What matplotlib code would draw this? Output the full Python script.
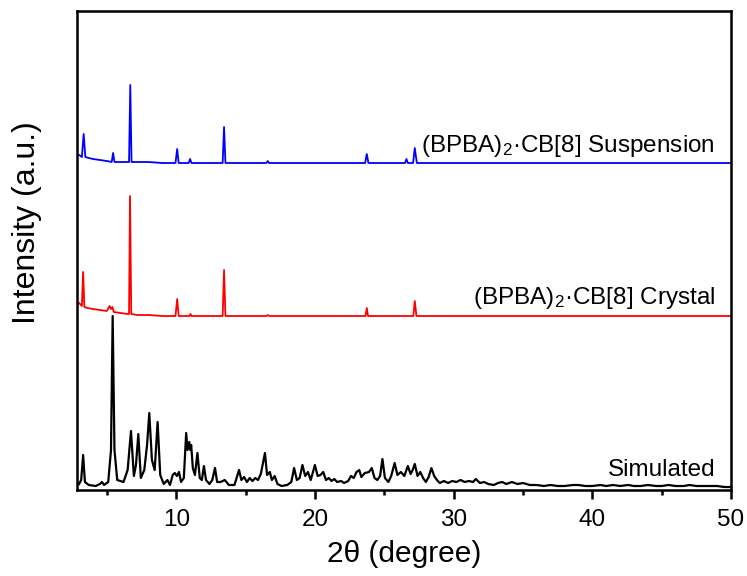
import numpy as np
import matplotlib
matplotlib.use('Agg')
import matplotlib.pyplot as plt
from matplotlib.ticker import MultipleLocator

plt.rcParams['font.family'] = ['Liberation Sans', 'DejaVu Sans']
plt.rcParams['mathtext.fontset'] = 'custom'
plt.rcParams['mathtext.rm'] = 'Liberation Sans'
plt.rcParams['mathtext.default'] = 'regular'

# 2theta / intensity (a.u., already stacked)
sim_x = [3.0, 3.15, 3.29, 3.42, 3.7, 4.2, 4.5, 4.65, 4.8, 5.1, 5.3, 5.42, 5.55, 5.75,
         6.2, 6.5, 6.74, 6.95, 7.1, 7.27, 7.45, 7.7, 7.9, 8.06, 8.25, 8.45, 8.66, 8.85,
         9.1, 9.37, 9.55, 9.75, 9.9, 10.05, 10.2, 10.35, 10.55, 10.72, 10.82, 10.94,
         11.02, 11.08, 11.2, 11.35, 11.53, 11.7, 11.85, 12.0, 12.15, 12.4, 12.6, 12.8,
         12.95, 13.2, 13.5, 13.8, 14.2, 14.53, 14.7, 14.9, 15.1, 15.3, 15.5, 15.7, 15.9,
         16.1, 16.4, 16.55, 16.75, 16.9, 17.1, 17.3, 17.6, 18.0, 18.3, 18.5, 18.7, 18.9,
         19.1, 19.3, 19.5, 19.7, 20.0, 20.2, 20.4, 20.6, 20.8, 21.0, 21.2, 21.4, 21.6,
         21.9, 22.1, 22.4, 22.6, 22.8, 23.0, 23.2, 23.35, 23.6, 23.9, 24.1, 24.3, 24.5,
         24.7, 24.87, 25.05, 25.3, 25.5, 25.75, 25.95, 26.2, 26.45, 26.7, 26.9, 27.05,
         27.2, 27.4, 27.6, 27.8, 28.0, 28.2, 28.4, 28.6, 28.8, 29.0, 29.3, 29.6, 29.9,
         30.2, 30.5, 30.8, 31.1, 31.4, 31.6, 31.9, 32.2, 32.5, 32.9, 33.2, 33.5, 33.8,
         34.2, 34.6, 35.0, 35.5, 36.0, 36.5, 37.0, 37.5, 38.0, 38.6, 39.0, 39.5, 40.0,
         40.6, 41.0, 41.5, 42.0, 42.6, 43.0, 43.5, 44.0, 44.6, 45.0, 45.5, 46.0, 46.6,
         47.0, 47.5, 48.0, 48.6, 49.0, 49.5, 50.0]
sim_y = [6, 10, 35, 8, 5, 4, 6, 8, 5, 8, 40, 174, 40, 10,
         8, 20, 59, 14, 25, 56, 12, 20, 45, 77, 30, 20, 68, 15,
         6, 10, 5, 15, 17, 14, 18, 8, 12, 57, 40, 48,
         40, 45, 22, 15, 37, 12, 10, 24, 10, 6, 10, 22,
         8, 8, 10, 5, 5, 20, 10, 13, 8, 12, 9, 12, 10,
         16, 37, 15, 18, 10, 14, 6, 4, 5, 8, 22, 10, 12,
         25, 14, 18, 10, 25, 14, 15, 18, 10, 12, 9, 11, 8,
         9, 7, 9, 14, 12, 18, 20, 13, 17, 18, 22, 12, 10,
         14, 31, 12, 8, 14, 27, 15, 18, 14, 24, 16, 20,
         26, 14, 18, 12, 8, 13, 22, 14, 10, 7, 9, 7, 9,
         8, 10, 8, 9, 8, 11, 7, 8, 6, 5, 7, 8, 6,
         8, 6, 7, 5, 5, 4, 5, 4, 4, 5, 5, 4, 4,
         5, 4, 5, 4, 5, 4, 4, 5, 4, 4, 5, 4, 4,
         5, 4, 4, 4, 4, 3, 3]

cry_x = [3.0, 3.2, 3.29, 3.38, 3.6, 4.0, 4.5, 5.0, 5.2, 5.3, 5.4, 5.5, 6.0, 6.5, 6.6,
         6.67, 6.76, 7.2, 8.0, 9.0, 9.95, 10.07, 10.18, 10.95, 11.03, 11.1, 13.35,
         13.45, 13.55, 16.5, 16.6, 16.7, 23.65, 23.74, 23.83, 27.1, 27.2, 27.32, 50.0]
cry_y = [187, 184, 218, 183, 182, 181, 180, 179, 184, 181, 183, 178, 177, 176, 176,
         294, 176, 175, 175, 174, 174, 191, 174, 174, 176, 174, 174,
         220, 174, 174, 175, 174, 174, 182, 174, 174, 189, 174, 174]

sus_x = [3.0, 3.2, 3.33, 3.45, 3.7, 4.0, 4.5, 5.0, 5.35, 5.45, 5.55, 6.0, 6.6,
         6.69, 6.78, 7.2, 8.0, 9.0, 9.95, 10.07, 10.18, 10.9, 11.0, 11.1, 13.35,
         13.45, 13.55, 16.5, 16.6, 16.7, 23.62, 23.74, 23.86, 26.5, 26.6, 26.7,
         27.08, 27.2, 27.35, 50.0]
sus_y = [335, 333, 356, 333, 332, 331, 330, 329, 328, 337, 328, 328, 328,
         405, 328, 328, 328, 327, 327, 341, 327, 327, 331, 327, 327,
         363, 327, 327, 329, 327, 327, 336, 327, 327, 331, 327,
         327, 342, 327, 327]

labels = ['(BPBA)$_2$·CB[8] Suspension', '(BPBA)$_2$·CB[8] Crystal', 'Simulated']
label_y = [338, 186, 14]
colors = ['#0000ff', '#ff0000', '#000000']

fig = plt.figure(figsize=(7.47, 5.76), dpi=100)
ax = fig.add_axes([0.1031, 0.1493, 0.8755, 0.8316])

ax.plot(sim_x, sim_y, color=colors[2], lw=1.6)
ax.plot(cry_x, cry_y, color=colors[1], lw=1.3)
ax.plot(sus_x, sus_y, color=colors[0], lw=1.3)

for t, yy in zip(labels, label_y):
    ax.text(48.85, yy, t, ha='right', va='baseline', fontsize=17.5)

ax.set_xlim(2.85, 50)
ax.set_ylim(0, 479)
ax.xaxis.set_major_locator(MultipleLocator(10))
ax.xaxis.set_minor_locator(MultipleLocator(5))
ax.set_yticks([])
ax.tick_params(axis='x', which='major', direction='out', length=6.5, width=1.8,
               labelsize=17.5, pad=7.5, top=False)
ax.tick_params(axis='x', which='minor', direction='out', length=3.5, width=1.8, top=False)
for s in ax.spines.values():
    s.set_linewidth(1.8)

ax.set_xlabel('2θ (degree)', fontsize=21.5)
ax.xaxis.set_label_coords(0.5, -0.104)
ax.set_ylabel('Intensity (a.u.)', fontsize=23)
ax.yaxis.set_label_coords(-0.053, 0.558)

plt.savefig('out.png', dpi=100)
